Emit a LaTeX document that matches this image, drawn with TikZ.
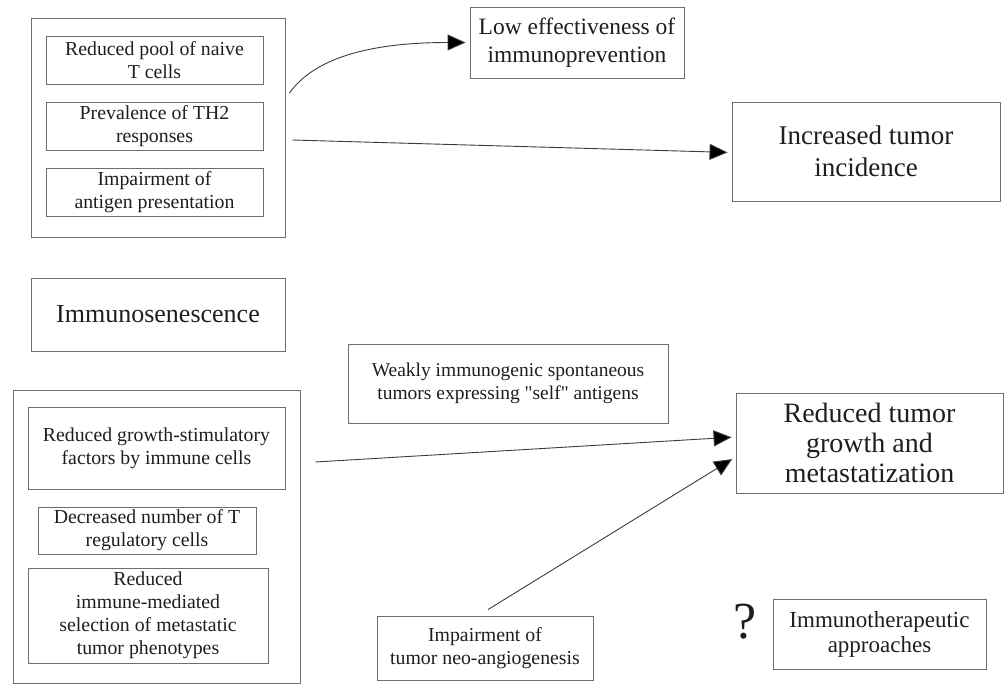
\documentclass[tikz,border=0pt]{standalone}
\usepackage{fontspec}
\setmainfont{Liberation Serif}
\newfontfamily\plainquote{Liberation Serif}
\usetikzlibrary{arrows.meta}
\definecolor{boxgray}{HTML}{6E6E6E}
\definecolor{textgray}{HTML}{1E1E1E}
\definecolor{arrgray}{HTML}{3C3C3C}

\begin{document}
\begin{tikzpicture}[x=1pt,y=-1pt,
    box/.style={draw=boxgray, line width=0.9pt, inner sep=0pt, align=center, text=textgray},
    small/.style={font=\fontsize{19.8}{23}\selectfont},
    big/.style={font=\fontsize{26}{32}\selectfont},
    arr/.style={draw=arrgray, line width=0.9pt, -{Triangle[length=18pt,width=16pt,fill=black]}, shorten >=4pt}]
    \useasboundingbox (0,0) rectangle (1004,686);
    % UPPER GROUP
    \node[box, minimum width=254pt, minimum height=219pt] (topouter) at (158,127.5) {};
    \node[box, small, minimum width=217pt, minimum height=48pt] (pool) at (154.5,60) {Reduced pool of naive\\T cells};
    \node[box, small, minimum width=217pt, minimum height=48pt] (th2) at (154.5,126) {Prevalence of TH2\\responses};
    \node[box, small, minimum width=217pt, minimum height=48pt] (antigen) at (154.5,192) {Impairment of\\antigen presentation};
    % upper outcomes
    \node[box, font=\fontsize{23.5}{28}\selectfont, minimum width=214pt, minimum height=71pt] (loweff) at (577,42.5) {Low effectiveness of\\immunoprevention};
    \node[box, font=\fontsize{27}{32}\selectfont, minimum width=268pt, minimum height=99pt] (incid) at (866,151.5) {Increased tumor\\incidence};
    % MIDDLE
    \node[box, big, minimum width=254pt, minimum height=73pt] (senes) at (158,314.5) {Immunosenescence};
    % LOWER GROUP
    \node[box, minimum width=287pt, minimum height=293pt] (botouter) at (156.5,536.5) {};
    \node[box, small, minimum width=257pt, minimum height=82pt] (growthf) at (156.5,448) {Reduced growth-stimulatory\\factors by immune cells};
    \node[box, small, minimum width=218pt, minimum height=47pt] (treg) at (147,530.5) {Decreased number of T\\regulatory cells};
    \node[box, small, minimum width=240pt, minimum height=95pt] (select) at (148,615.5) {Reduced\\immune-mediated\\selection of metastatic\\tumor phenotypes};
    % lower outcomes
    \node[box, font=\fontsize{19.5}{23}\selectfont, minimum width=320pt, minimum height=79pt] (weakly) at (508,383.5) {Weakly immunogenic spontaneous\\tumors expressing {\plainquote"}self{\plainquote"} antigens};
    \node[box, font=\fontsize{28}{30}\selectfont, minimum width=267pt, minimum height=100pt] (redgrowth) at (869.5,443) {Reduced tumor\\growth and\\metastatization};
    \node[box, small, minimum width=216pt, minimum height=64pt] (angio) at (485,648) {Impairment of\\tumor neo-angiogenesis};
    \node[text=textgray, font=\fontsize{52}{52}\selectfont, inner sep=0pt] (qmark) at (745,622) {?};
    \node[box, font=\fontsize{23}{25}\selectfont, minimum width=213pt, minimum height=70pt] (immther) at (879.5,634) {Immunotherapeutic\\approaches};
    % ARROWS
    \draw[arr] ([shift={(4,-34.5)}]topouter.east) .. controls +(25,-35) and +(-100,0) .. (loweff.west);
    \draw[arr] ([shift={(7,12.5)}]topouter.east) -- ([shift={(0,1)}]incid.west);
    \draw[arr] ([shift={(15,-74.5)}]botouter.east) -- ([shift={(0,-6)}]redgrowth.west);
    \draw[arr] ([shift={(3,-6)}]angio.north) -- ([shift={(0,14)}]redgrowth.west);
\end{tikzpicture}
\end{document}
